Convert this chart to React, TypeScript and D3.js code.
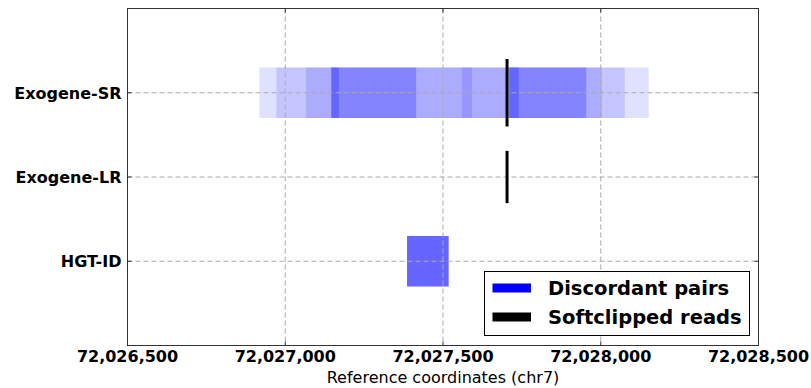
import React from "react";
import * as d3 from "d3";

// ---- data ----
const tracks = ["HGT-ID", "Exogene-LR", "Exogene-SR"];
const xTickValues = [72026500, 72027000, 72027500, 72028000, 72028500];
const xDomain = [72026500, 72028500];

// discordant-pair intervals (each drawn translucent, overlaps darken)
const srDiscordant: [number, number][] = [
  [72026918, 72028152],
  [72026972, 72028076],
  [72027066, 72028004],
  [72027146, 72027415],
  [72027146, 72027415],
  [72027146, 72027170],
  [72027146, 72027170],
  [72027560, 72027592],
  [72027710, 72027954],
  [72027710, 72027954],
  [72027710, 72027740],
  [72027710, 72027740],
];
const hgtDiscordant: [number, number][] = [[72027386, 72027518]];
const srSoftclip = [72027703];
const lrSoftclip = [72027703];

const legendLabels = ["Discordant pairs", "Softclipped reads"];
const legendColors = ["#0000ff", "#000000"];

// ---- layout ----
const W = 811;
const H = 388;
const L = 127.5;
const R = 758.5;
const T = 8.5;
const B = 345.5;
const FONT = "'DejaVu Sans', sans-serif";

export default function App() {
  const x = d3.scaleLinear().domain(xDomain).range([L, R]);
  const y = d3.scaleLinear().domain([0, tracks.length + 1]).range([B, T]);
  const fmt = d3.format(",");
  const rowY = (name: string) => y(tracks.indexOf(name) + 1);
  const barHalf = 0.3;
  const grid = { stroke: "#aaa", strokeWidth: 1, strokeDasharray: "5,3" };

  return (
    <div style={{ position: "absolute", left: 0, top: 0 }}>
      <svg width={W} height={H} style={{ display: "block", background: "#fff" }} fontFamily={FONT}>
        <rect x={0} y={0} width={W} height={H} fill="#fff" />
        {/* discordant pairs */}
        {srDiscordant.map((d, i) => (
          <rect
            key={"sr" + i}
            x={x(d[0])}
            width={x(d[1]) - x(d[0])}
            y={y(tracks.indexOf("Exogene-SR") + 1 + barHalf)}
            height={y(0) - y(2 * barHalf)}
            fill="#0000ff"
            fillOpacity={0.12}
          />
        ))}
        {hgtDiscordant.map((d, i) => (
          <rect
            key={"hg" + i}
            x={x(d[0])}
            width={x(d[1]) - x(d[0])}
            y={y(tracks.indexOf("HGT-ID") + 1 + barHalf)}
            height={y(0) - y(2 * barHalf)}
            fill="#0000ff"
            fillOpacity={0.6}
          />
        ))}
        {/* grid */}
        {xTickValues.slice(1, -1).map((t) => (
          <line key={"gx" + t} x1={x(t)} x2={x(t)} y1={T} y2={B} {...grid} />
        ))}
        {tracks.map((n) => (
          <line key={"gy" + n} x1={L} x2={R} y1={rowY(n)} y2={rowY(n)} {...grid} />
        ))}
        {/* softclipped reads */}
        {srSoftclip.map((v, i) => (
          <line
            key={"ss" + i}
            x1={x(v)}
            x2={x(v)}
            y1={y(tracks.indexOf("Exogene-SR") + 1 + 0.4)}
            y2={y(tracks.indexOf("Exogene-SR") + 1 - 0.4)}
            stroke="#000"
            strokeWidth={3}
          />
        ))}
        {lrSoftclip.map((v, i) => (
          <line
            key={"ls" + i}
            x1={x(v)}
            x2={x(v)}
            y1={y(tracks.indexOf("Exogene-LR") + 1 + 0.31)}
            y2={y(tracks.indexOf("Exogene-LR") + 1 - 0.31)}
            stroke="#000"
            strokeWidth={3}
          />
        ))}
        {/* frame */}
        <rect x={L} y={T} width={R - L} height={B - T} fill="none" stroke="#333" strokeWidth={1} />
        {/* ticks */}
        {xTickValues.map((t) => (
          <g key={"tx" + t}>
            <line x1={x(t)} x2={x(t)} y1={B} y2={B - 4} stroke="#333" />
            <line x1={x(t)} x2={x(t)} y1={T} y2={T + 4} stroke="#333" />
            <text x={x(t)} y={362} textAnchor="middle" fontSize={16} fontWeight="bold" fill="#000">
              {fmt(t)}
            </text>
          </g>
        ))}
        {tracks.map((n) => (
          <g key={"ty" + n}>
            <line x1={L} x2={L + 4} y1={rowY(n)} y2={rowY(n)} stroke="#333" />
            <line x1={R} x2={R - 4} y1={rowY(n)} y2={rowY(n)} stroke="#333" />
            <text x={L - 6} y={rowY(n)} dy="0.36em" textAnchor="end" fontSize={16} fontWeight="bold" fill="#000">
              {n}
            </text>
          </g>
        ))}
        <text x={(L + R) / 2} y={383} textAnchor="middle" fontSize={16} fill="#000">
          Reference coordinates (chr7)
        </text>
        {/* legend */}
        <rect x={484.5} y={271.5} width={265} height={64} fill="#fff" stroke="#000" strokeWidth={1} />
        {legendLabels.map((lab, i) => (
          <g key={lab}>
            <line x1={492.5} x2={531} y1={288 + i * 29} y2={288 + i * 29} stroke={legendColors[i]} strokeWidth={9} />
            <text x={548} y={288 + i * 29} dy="0.36em" fontSize={19.5} fontWeight="bold" fill="#000">
              {lab}
            </text>
          </g>
        ))}
      </svg>
    </div>
  );
}
